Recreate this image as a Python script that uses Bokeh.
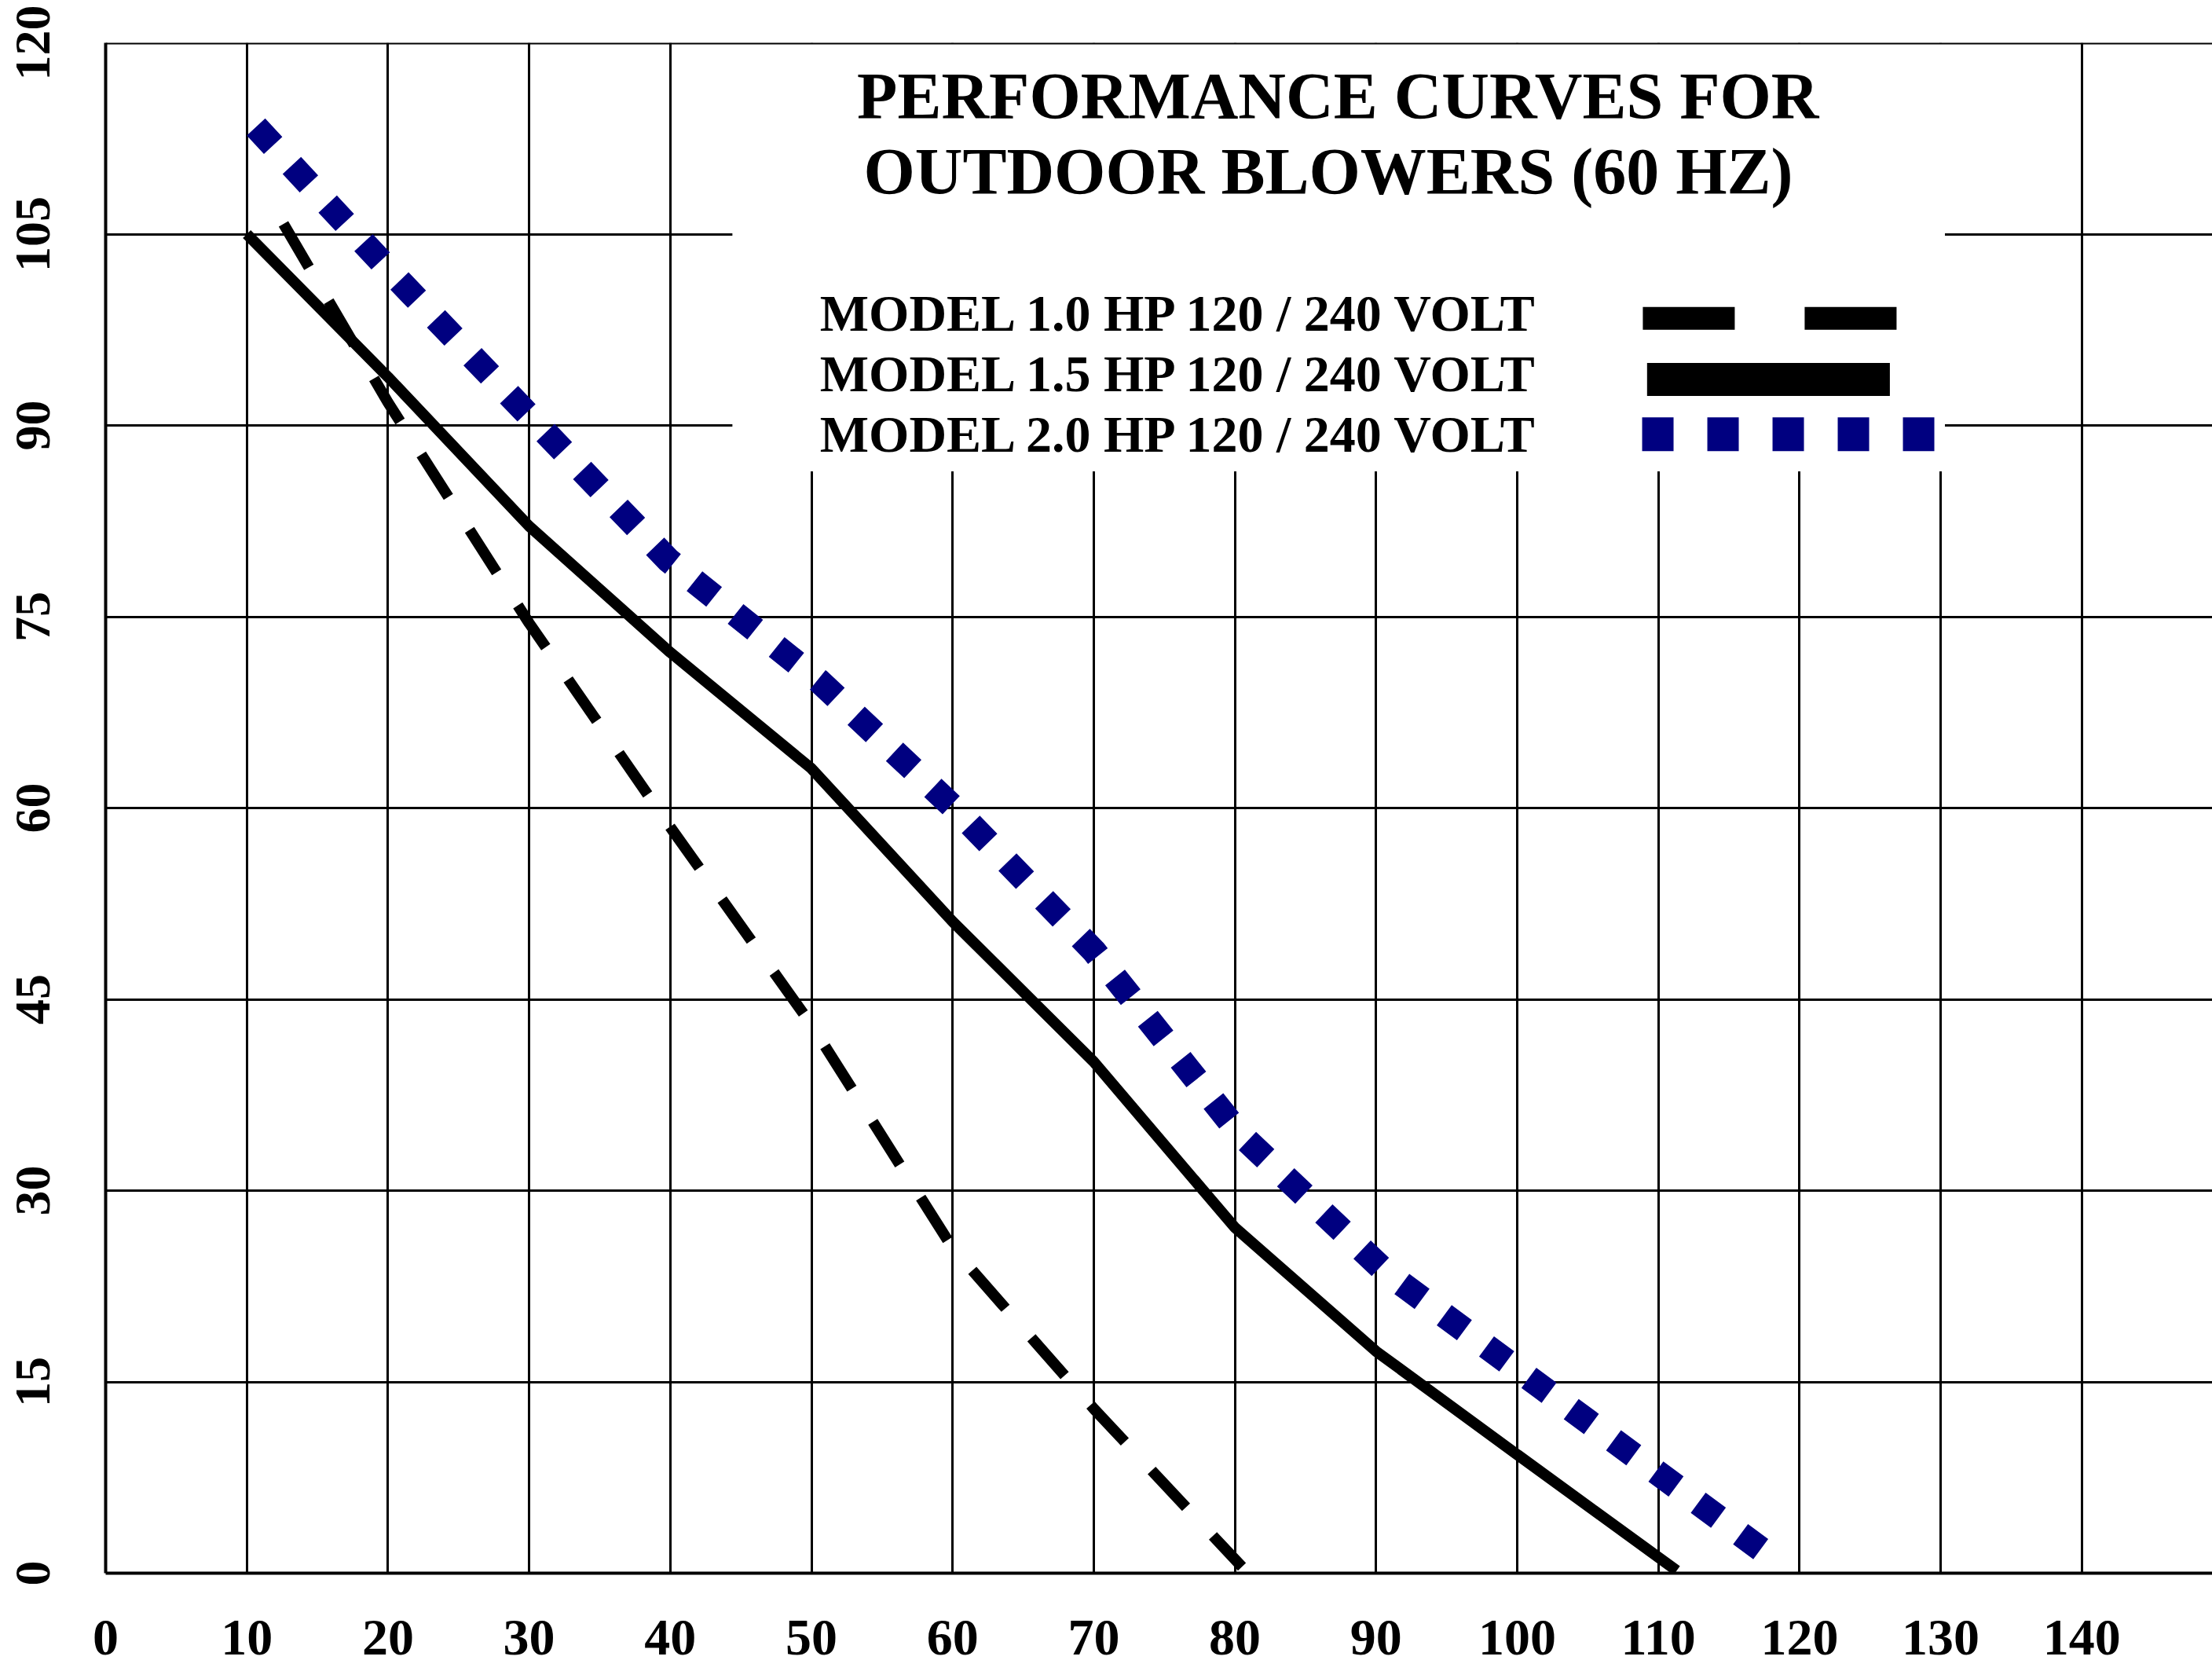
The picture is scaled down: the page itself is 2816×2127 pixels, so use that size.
from bokeh.plotting import figure
from bokeh.models import Range1d, FixedTicker, Span
from bokeh.core.properties import value
from bokeh.embed import file_html
from bokeh.resources import INLINE

# ---------------- data ----------------
x_ticks = [0, 10, 20, 30, 40, 50, 60, 70, 80, 90, 100, 110, 120, 130, 140]
y_ticks = [0, 15, 30, 45, 60, 75, 90, 105, 120]

# MODEL 1.0 HP (dashed black)
hp10_x = [12.6, 20, 30, 40, 50, 60, 70, 80.5]
hp10_y = [105.8, 91.8, 74.5, 58.5, 43.0, 25.5, 12.9, 0.5]

# MODEL 1.5 HP (solid black)
hp15_x = [10, 20, 30, 40, 50, 60, 70, 80, 90, 100, 111.3]
hp15_y = [105, 93.8, 82.1, 72.2, 63.1, 51.1, 40.1, 27.1, 17.4, 9.3, 0.2]

# MODEL 2.0 HP (dotted navy)
hp20_x = [10.65, 20.4, 39.9, 50.5, 60.6, 70.0, 80.3, 90.7, 118.1]
hp20_y = [113.4, 101.8, 79.4, 70.0, 59.5, 48.8, 34.5, 23.6, 1.2]

title_lines = ["PERFORMANCE CURVES FOR", "OUTDOOR  BLOWERS (60 HZ)"]
legend_labels = ["MODEL 1.0 HP 120 / 240 VOLT",
                 "MODEL 1.5 HP 120 / 240 VOLT",
                 "MODEL 2.0 HP 120 / 240 VOLT"]

NAVY = "#000080"
FONT = "Liberation Serif"

# ---------------- figure ----------------
W, H = 2816, 2126
BORDER_L, BORDER_T, FRAME_H = 134, 54, 1948
p = figure(width=W, height=H, output_backend="svg", toolbar_location=None,
           x_range=Range1d(0, (W - BORDER_L) / 17.97), y_range=Range1d(0, 120),
           min_border_left=BORDER_L, min_border_top=BORDER_T,
           min_border_right=0, min_border_bottom=H - BORDER_T - FRAME_H)
p.outline_line_color = None
p.background_fill_color = "white"
p.border_fill_color = "white"

for ax, ticks in ((p.xaxis, x_ticks), (p.yaxis, y_ticks)):
    ax.ticker = FixedTicker(ticks=ticks)
    ax.major_tick_line_color = None
    ax.minor_tick_line_color = None
    ax.major_tick_in = 0
    ax.major_tick_out = 0
    ax.axis_line_color = "black"
    ax.axis_line_width = 4
    ax.major_label_text_font = FONT
    ax.major_label_text_font_style = "bold"
    ax.major_label_text_color = "black"
    ax.major_label_text_line_height = 0.6

p.xaxis.major_label_text_font_size = "66px"
p.xaxis.major_label_standoff = 60
p.yaxis.major_label_text_font_size = "64px"
p.yaxis.major_label_orientation = "vertical"
p.yaxis.major_label_standoff = 72

p.xgrid.ticker = FixedTicker(ticks=x_ticks[1:])
p.ygrid.ticker = FixedTicker(ticks=y_ticks[1:-1])
for g in (p.xgrid, p.ygrid):
    g.grid_line_color = "black"
    g.grid_line_width = 3
    g.grid_line_alpha = 1.0

# white panel behind title and legend
p.quad(left=[44.4], right=[130.3], bottom=[86.4], top=[120],
       fill_color="white", line_color=None)

# top border
p.add_layout(Span(location=120, dimension="width", line_color="black", line_width=4))

# curves
p.line(hp10_x, hp10_y, line_color="black", line_width=14, line_dash="64 50")
p.line(hp15_x, hp15_y, line_color="black", line_width=14)
p.line(hp20_x, hp20_y, line_color=NAVY, line_width=32, line_dash="32 35")

# title
p.text(x=[87.3, 87.2], y=[115.8, 109.9], text=title_lines,
       text_font=value(FONT), text_font_style="bold", text_font_size="84px",
       text_align="center", text_baseline="middle", text_color="black")

# legend
leg_text_y = [98.8, 94.05, 89.35]
p.text(x=[50.6] * 3, y=leg_text_y, text=legend_labels,
       text_font=value(FONT), text_font_style="bold", text_font_size="66px",
       text_align="left", text_baseline="middle", text_color="black")

p.line([108.9, 126.9], [98.4, 98.4], line_color="black", line_width=29, line_dash="117 89")
p.line([109.2, 126.4], [93.6, 93.6], line_color="black", line_width=42)
p.line([108.85, 129.55], [89.3, 89.3], line_color=NAVY, line_width=43, line_dash="40 43")

open("out.html", "w").write(file_html(p, INLINE))
